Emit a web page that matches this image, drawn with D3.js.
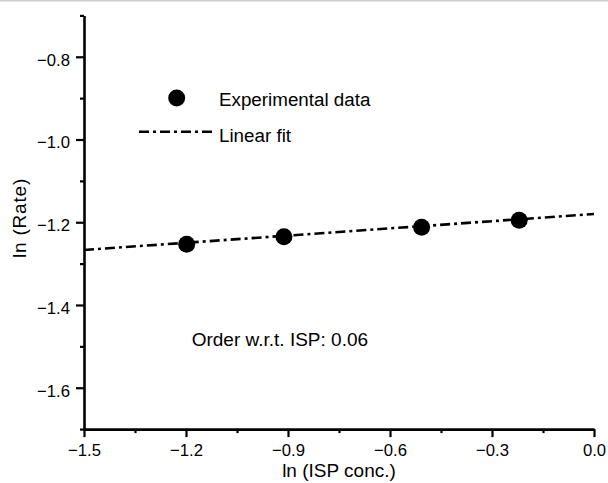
<!DOCTYPE html>
<html>
<head>
<meta charset="utf-8">
<script src="https://cdn.jsdelivr.net/npm/d3@7"></script>
<style>
  body { margin: 0; background: #fff; }
  svg { display: block; }
  text { font-family: "Liberation Sans", Arial, Helvetica, sans-serif; fill: #000; }
</style>
</head>
<body>
<div id="chart"></div>
<script>
// data
var xData = [-1.198, -0.912, -0.507, -0.220];   // ln (ISP conc.)
var yData = [-1.253, -1.235, -1.212, -1.195];   // ln (Rate)
var fitX = [-1.5, 0.0];
var fitY = [-1.267, -1.180];

var xTicks = [-1.5, -1.2, -0.9, -0.6, -0.3, 0.0];
var xMinor = [-1.35, -1.05, -0.75, -0.45, -0.15];
var yTicks = [-1.6, -1.4, -1.2, -1.0, -0.8];
var yMinor = [-1.7, -1.5, -1.3, -1.1, -0.9, -0.7];

var width = 608, height = 483;

var svg = d3.select("#chart").append("svg")
    .attr("width", width)
    .attr("height", height);

// thin gray border line at the very top
svg.append("rect")
    .attr("x", 0).attr("y", 0)
    .attr("width", width).attr("height", 1.5)
    .attr("fill", "#d0d0d0");

var x = d3.scaleLinear().domain([-1.5, 0.0]).range([84, 594]);
var y = d3.scaleLinear().domain([-1.7, -0.7]).range([429.1, 15.4]);

var fmt = d3.format(".1f");

// x axis
var gx = svg.append("g")
    .attr("transform", "translate(0," + y(-1.7) + ")");
gx.call(d3.axisBottom(x).tickValues(xTicks).tickFormat(fmt).tickSize(8).tickSizeOuter(0).tickPadding(7));
gx.append("g").call(d3.axisBottom(x).tickValues(xMinor).tickFormat("").tickSize(4).tickSizeOuter(0))
    .select(".domain").remove();

// y axis
var gy = svg.append("g")
    .attr("transform", "translate(" + x(-1.5) + ",0)");
gy.call(d3.axisLeft(y).tickValues(yTicks).tickFormat(fmt).tickSize(8).tickSizeOuter(0).tickPadding(6));
gy.append("g").call(d3.axisLeft(y).tickValues(yMinor).tickFormat("").tickSize(4).tickSizeOuter(0))
    .select(".domain").remove();

svg.selectAll(".domain").attr("stroke", "#000").attr("stroke-width", 2.6);
svg.selectAll(".tick line").attr("stroke", "#000").attr("stroke-width", 2.2);
svg.selectAll(".tick text")
    .style("font-family", '"Liberation Sans", Arial, sans-serif')
    .style("font-size", "16.7px")
    .attr("fill", "#000");
gy.selectAll(".tick text").attr("dy", "0.5em");
gx.selectAll(".tick text").attr("dy", "0.71em");

// axis titles
svg.append("text")
    .attr("x", 339).attr("y", 476.5)
    .attr("text-anchor", "middle")
    .style("font-size", "19px")
    .text("ln (ISP conc.)");

svg.append("text")
    .attr("transform", "translate(26,218) rotate(-90)")
    .attr("text-anchor", "middle")
    .style("font-size", "19px")
    .style("letter-spacing", "0.8px")
    .text("ln (Rate)");

// linear fit
var line = d3.line()
    .x(function (d) { return x(d[0]); })
    .y(function (d) { return y(d[1]); });

svg.append("path")
    .datum(d3.zip(fitX, fitY))
    .attr("d", line)
    .attr("fill", "none")
    .attr("stroke", "#000")
    .attr("stroke-width", 2.6)
    .attr("stroke-dasharray", "10,4,3,4");

// experimental points
svg.selectAll(".pt")
    .data(d3.zip(xData, yData))
    .enter().append("circle")
    .attr("class", "pt")
    .attr("cx", function (d) { return x(d[0]); })
    .attr("cy", function (d) { return y(d[1]); })
    .attr("r", 8.5)
    .attr("fill", "#000");

// legend
svg.append("circle")
    .attr("cx", 176.7).attr("cy", 98)
    .attr("r", 8.5).attr("fill", "#000");
svg.append("text")
    .attr("x", 219).attr("y", 106)
    .style("font-size", "18.8px")
    .text("Experimental data");

svg.append("line")
    .attr("x1", 139).attr("x2", 212)
    .attr("y1", 131.7).attr("y2", 131.7)
    .attr("stroke", "#000")
    .attr("stroke-width", 2.6)
    .attr("stroke-dasharray", "10,4,3,4");
svg.append("text")
    .attr("x", 219).attr("y", 142)
    .style("font-size", "18.8px")
    .text("Linear fit");

// annotation
svg.append("text")
    .attr("x", 191.7).attr("y", 346)
    .style("font-size", "19px")
    .text("Order w.r.t. ISP: 0.06");
</script>
</body>
</html>
